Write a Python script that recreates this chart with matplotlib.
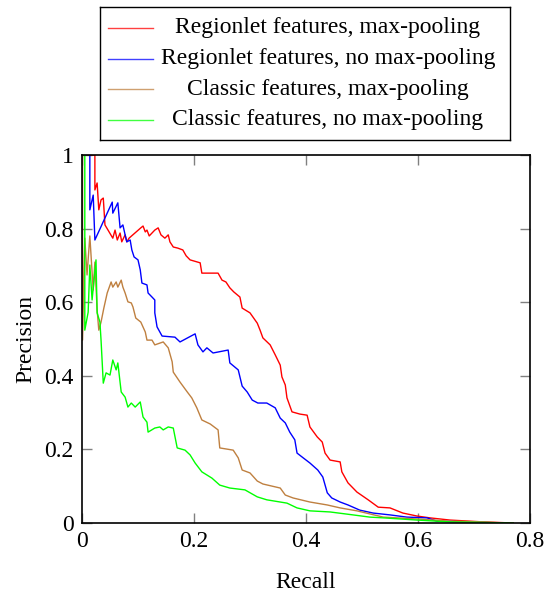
import matplotlib
matplotlib.use('Agg')
import matplotlib.pyplot as plt

plt.rcParams['font.family'] = ['Liberation Serif', 'DejaVu Serif']
plt.rcParams['font.size'] = 17

# precision / recall curves
red_recall = [0.011, 0.023, 0.023, 0.027, 0.030, 0.034, 0.038, 0.041, 0.055, 0.059, 0.063, 0.068,
              0.071, 0.077, 0.080, 0.084, 0.105, 0.109, 0.113, 0.116, 0.120, 0.125, 0.130, 0.136,
              0.141, 0.148, 0.154, 0.157, 0.163, 0.171, 0.180, 0.186, 0.193, 0.211, 0.214, 0.229,
              0.243, 0.250, 0.257, 0.264, 0.271, 0.282, 0.286, 0.300, 0.313, 0.318, 0.323, 0.336,
              0.345, 0.354, 0.357, 0.363, 0.366, 0.375, 0.389, 0.402, 0.407, 0.420, 0.429, 0.434,
              0.443, 0.461, 0.464, 0.475, 0.491, 0.511, 0.529, 0.550, 0.573, 0.598, 0.621, 0.657,
              0.716, 0.770]
red_prec = [1.000, 1.000, 0.905, 0.924, 0.851, 0.878, 0.883, 0.810, 0.774, 0.796, 0.769, 0.788,
            0.764, 0.783, 0.764, 0.774, 0.802, 0.807, 0.791, 0.796, 0.780, 0.788, 0.796, 0.802,
            0.783, 0.774, 0.783, 0.764, 0.750, 0.747, 0.742, 0.726, 0.715, 0.707, 0.679, 0.679,
            0.679, 0.660, 0.655, 0.639, 0.628, 0.614, 0.584, 0.571, 0.543, 0.524, 0.503, 0.484,
            0.457, 0.429, 0.397, 0.375, 0.340, 0.302, 0.296, 0.293, 0.261, 0.234, 0.220, 0.190,
            0.171, 0.166, 0.139, 0.109, 0.084, 0.063, 0.043, 0.041, 0.027, 0.019, 0.014, 0.008,
            0.003, 0.0]

blue_recall = [0.013, 0.014, 0.014, 0.020, 0.023, 0.054, 0.055, 0.064, 0.068, 0.073, 0.077, 0.080,
               0.086, 0.089, 0.093, 0.100, 0.104, 0.107, 0.116, 0.118, 0.125, 0.130, 0.130, 0.134,
               0.143, 0.166, 0.175, 0.202, 0.207, 0.216, 0.223, 0.234, 0.261, 0.264, 0.279, 0.286,
               0.295, 0.304, 0.314, 0.330, 0.345, 0.354, 0.363, 0.371, 0.380, 0.384, 0.395, 0.407,
               0.421, 0.430, 0.438, 0.446, 0.461, 0.475, 0.496, 0.520, 0.550, 0.580, 0.616, 0.634,
               0.688, 0.746]
blue_prec = [1.0, 1.0, 0.851, 0.891, 0.769, 0.872, 0.842, 0.870, 0.802, 0.810, 0.783, 0.764,
             0.769, 0.742, 0.723, 0.715, 0.688, 0.652, 0.647, 0.625, 0.614, 0.606, 0.571, 0.533,
             0.508, 0.505, 0.492, 0.514, 0.484, 0.465, 0.476, 0.462, 0.470, 0.435, 0.416, 0.372,
             0.356, 0.334, 0.326, 0.326, 0.313, 0.285, 0.272, 0.247, 0.226, 0.190, 0.177, 0.163,
             0.144, 0.125, 0.082, 0.068, 0.057, 0.049, 0.035, 0.027, 0.022, 0.016, 0.014, 0.005,
             0.003, 0.0]

brown_recall = [0.001, 0.001, 0.005, 0.009, 0.014, 0.020, 0.023, 0.027, 0.030, 0.034, 0.039, 0.045,
                0.052, 0.055, 0.061, 0.064, 0.070, 0.073, 0.077, 0.082, 0.088, 0.091, 0.096, 0.105,
                0.113, 0.116, 0.125, 0.130, 0.145, 0.154, 0.161, 0.163, 0.175, 0.188, 0.196, 0.205,
                0.214, 0.229, 0.243, 0.246, 0.270, 0.279, 0.286, 0.300, 0.313, 0.323, 0.354, 0.363,
                0.377, 0.407, 0.438, 0.461, 0.491, 0.538, 0.598, 0.657, 0.716, 0.755]
brown_prec = [1.0, 0.497, 0.774, 0.674, 0.780, 0.633, 0.709, 0.579, 0.524, 0.546, 0.584, 0.625,
              0.655, 0.641, 0.655, 0.641, 0.660, 0.641, 0.625, 0.601, 0.598, 0.587, 0.557, 0.546,
              0.519, 0.497, 0.497, 0.484, 0.492, 0.476, 0.438, 0.410, 0.383, 0.356, 0.340, 0.313,
              0.280, 0.269, 0.253, 0.204, 0.198, 0.177, 0.144, 0.136, 0.114, 0.106, 0.095, 0.076,
              0.068, 0.057, 0.049, 0.041, 0.033, 0.016, 0.011, 0.005, 0.003, 0.0]

green_recall = [0.004, 0.005, 0.005, 0.011, 0.014, 0.018, 0.025, 0.027, 0.032, 0.034, 0.038, 0.043,
                0.050, 0.055, 0.061, 0.064, 0.070, 0.077, 0.082, 0.088, 0.095, 0.104, 0.109, 0.116,
                0.118, 0.130, 0.139, 0.145, 0.154, 0.163, 0.170, 0.184, 0.193, 0.202, 0.214, 0.232,
                0.246, 0.264, 0.291, 0.313, 0.330, 0.366, 0.384, 0.407, 0.443, 0.484, 0.514, 0.538,
                0.598, 0.657, 0.770]
green_prec = [1.0, 1.0, 0.524, 0.573, 0.701, 0.606, 0.715, 0.571, 0.546, 0.497, 0.380, 0.408,
              0.402, 0.443, 0.416, 0.435, 0.356, 0.342, 0.315, 0.326, 0.315, 0.329, 0.288, 0.274,
              0.247, 0.258, 0.261, 0.253, 0.261, 0.258, 0.204, 0.198, 0.185, 0.163, 0.139, 0.122,
              0.103, 0.095, 0.090, 0.071, 0.063, 0.054, 0.041, 0.033, 0.030, 0.022, 0.016, 0.014,
              0.008, 0.003, 0.0]

labels = ['Regionlet features, max-pooling', 'Regionlet features, no max-pooling',
          'Classic features, max-pooling', 'Classic features, no max-pooling']
colors = ['#ff0000', '#0000ff', '#bf8040', '#00ff00']
series = [(red_recall, red_prec), (blue_recall, blue_prec),
          (brown_recall, brown_prec), (green_recall, green_prec)]

fig = plt.figure(figsize=(5.46, 5.94), dpi=100)
ax = fig.add_axes([82 / 546, 71 / 594, 448 / 546, 368 / 594])

for (x, y), c in zip(series, colors):
    ax.plot(x, y, color=c, lw=1.0)

ax.set_xlim(0, 0.8)
ax.set_ylim(0, 1)
ax.set_xticks([0, 0.2, 0.4, 0.6, 0.8])
ax.set_yticks([0, 0.2, 0.4, 0.6, 0.8, 1])
ax.set_xticklabels(['0', '0.2', '0.4', '0.6', '0.8'])
ax.set_yticklabels(['0', '0.2', '0.4', '0.6', '0.8', '1'])
ax.tick_params(direction='in', length=7, width=1.0, color='#808080',
               top=True, right=True, pad=6)
for s in ax.spines.values():
    s.set_linewidth(1.2)
ax.set_xlabel('Recall', labelpad=14)
ax.set_ylabel('Precision', labelpad=6)

# legend box drawn by hand so the texts can be centred like pgfplots
lax = fig.add_axes([100 / 546, 454 / 594, 410 / 546, 133 / 594])
lax.set_xlim(0, 410)
lax.set_ylim(133, 0)
lax.set_xticks([])
lax.set_yticks([])
for s in lax.spines.values():
    s.set_linewidth(1.0)
for i, (lab, c) in enumerate(zip(labels, colors)):
    yy = 21 + i * 30.5
    lax.plot([8, 53], [yy, yy], color=c, lw=1.0, alpha=0.75)
    lax.text(228, yy, lab, ha='center', va='center')

fig.savefig('out.png', dpi=100)
